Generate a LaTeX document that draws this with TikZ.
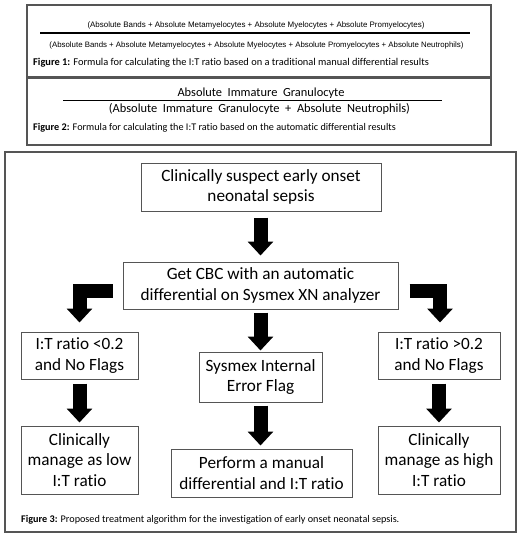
\documentclass[tikz,border=0pt]{standalone}
\usepackage{fontspec}
\setmainfont{Carlito}[Ligatures=NoCommon]
\newfontfamily\arialf{Liberation Sans}
\usetikzlibrary{arrows.meta}
\definecolor{frame}{HTML}{555555}
\begin{document}
\begin{tikzpicture}[x=1pt,y=-1pt,
  panel/.style={draw=frame,line width=1.3pt,fill=white,inner sep=0pt},
  flowbox/.style={draw=frame,line width=1pt,inner sep=2pt,align=center,
    font=\fontsize{17.2}{20.5}\selectfont},
  bigarrow/.style={line width=14pt,line join=miter,
    -{Triangle[width=25pt,length=14pt]}},
  figcap/.style={anchor=west,inner sep=0pt,font=\fontsize{10.4}{12}\selectfont},
  frml/.style={inner sep=0pt}]
\useasboundingbox (0,0) rectangle (520,536);
\fill[white] (0,0) rectangle (520,536);
% panels
\node[panel,minimum width=464pt,minimum height=72pt] (p1) at (259,41) {};
\node[panel,minimum width=464pt,minimum height=67pt] (p2) at (259,111.5) {};
\node[panel,minimum width=511pt,minimum height=380pt] (p3) at (260.5,342) {};
% figure 1 formula
\node[frml,font=\arialf\fontsize{7.95}{9}\selectfont] (n1) at (256,25)
  {(Absolute Bands + Absolute Metamyelocytes + Absolute Myelocytes + Absolute Promyelocytes)};
\node[frml,font=\arialf\fontsize{7.85}{9}\selectfont] (d1) at (256.5,45)
  {(Absolute Bands + Absolute Metamyelocytes + Absolute Myelocytes + Absolute Promyelocytes + Absolute Neutrophils)};
\coordinate (l1a) at (40,33);
\coordinate (l1b) at (470,33);
\draw[line width=1.5pt] (l1a) -- (l1b);
\node[figcap] (c1) at (33,63) {\textbf{Figure 1:} Formula for calculating the I:T ratio based on a traditional manual differential results};
% figure 2 formula
\node[frml,font=\fontsize{12.4}{14}\selectfont] (n2) at (261,93)
  {Absolute\ \ Immature\ \ Granulocyte};
\node[frml,font=\fontsize{12.4}{14}\selectfont] (d2) at (259.5,109)
  {(Absolute\ \ Immature\ \ Granulocyte\ \ +\ \ Absolute\ \ Neutrophils)};
\coordinate (l2a) at (63,100);
\coordinate (l2b) at (442,100);
\draw[line width=1pt] (l2a) -- (l2b);
\node[figcap,font=\fontsize{10.2}{12}\selectfont] (c2) at (33,128) {\textbf{Figure 2:} Formula for calculating the I:T ratio based on the automatic differential results};
% flowchart
\node[flowbox,minimum width=240pt,minimum height=48pt] (top) at (261,187)
  {Clinically suspect early onset\\neonatal sepsis};
\node[flowbox,minimum width=275pt,minimum height=47pt] (cbc) at (260.5,285.5)
  {Get CBC with an automatic\\differential on Sysmex XN analyzer};
\node[flowbox,minimum width=117pt,minimum height=47pt] (low) at (79.5,355.5)
  {I:T ratio <0.2\\and No Flags};
\node[flowbox,minimum width=122pt,minimum height=47pt] (high) at (439,355.5)
  {I:T ratio >0.2\\and No Flags};
\node[flowbox,minimum width=123pt,minimum height=50pt] (sys) at (260.5,377)
  {Sysmex Internal\\Error Flag};
\node[flowbox,minimum width=117pt,minimum height=68pt] (lowm) at (79.5,460)
  {Clinically\\manage as low\\I:T ratio};
\node[flowbox,minimum width=181pt,minimum height=48pt] (man) at (261.5,473)
  {Perform a manual\\differential and I:T ratio};
\node[flowbox,minimum width=122pt,minimum height=68pt] (highm) at (439,460)
  {Clinically\\manage as high\\I:T ratio};
% arrows
\draw[bigarrow,shorten <=6pt,shorten >=6pt] (top.south -| cbc.north) -- (cbc.north);
\draw[bigarrow,shorten <=3pt,shorten >=1pt] (cbc.south) -- (cbc.south |- sys.north);
\draw[bigarrow,shorten <=3pt,shorten >=3pt] (sys.south) -- (sys.south |- man.north);
\draw[bigarrow,shorten <=4pt,shorten >=3pt] (low.south) -- (lowm.north);
\draw[bigarrow,shorten <=4pt,shorten >=3pt] (high.south) -- (highm.north);
\draw[bigarrow,shorten <=10pt,shorten >=9pt] ([yshift=-5pt]cbc.west) -| (low.north);
\draw[bigarrow,shorten <=11pt,shorten >=9pt] ([yshift=-5pt]cbc.east) -| ([xshift=1pt]high.north);
\node[figcap,font=\fontsize{10.2}{12}\selectfont] (c3) at (21,520) {\textbf{Figure 3:} Proposed treatment algorithm for the investigation of early onset neonatal sepsis.};
\end{tikzpicture}
\end{document}
